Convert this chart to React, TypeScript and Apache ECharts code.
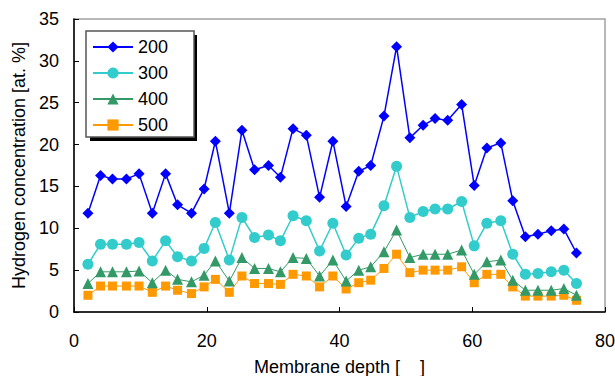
import React, { useEffect, useRef } from "react";
import * as echarts from "echarts";

const depth = [2.1, 4.0, 5.8, 7.9, 9.8, 11.8, 13.8, 15.6, 17.7, 19.6, 21.3, 23.4, 25.3, 27.2, 29.3, 31.1, 33.0, 35.0, 37.0, 39.0, 41.0, 42.9, 44.7, 46.7, 48.6, 50.6, 52.6, 54.4, 56.3, 58.4, 60.3, 62.2, 64.3, 66.1, 68.0, 69.9, 71.9, 73.8, 75.7];
const s200 = [11.8, 16.3, 15.9, 15.9, 16.5, 11.8, 16.5, 12.8, 11.8, 14.7, 20.4, 11.8, 21.7, 17.0, 17.5, 16.1, 21.9, 21.1, 13.7, 20.4, 12.6, 16.8, 17.5, 23.4, 31.7, 20.8, 22.3, 23.1, 22.9, 24.8, 15.1, 19.6, 20.2, 13.3, 9.0, 9.3, 9.7, 9.9, 7.05];
const s300 = [5.7, 8.1, 8.1, 8.1, 8.3, 6.1, 8.5, 6.6, 6.1, 7.6, 10.7, 6.2, 11.3, 8.9, 9.2, 8.5, 11.5, 10.9, 7.3, 10.6, 6.8, 8.8, 9.3, 12.7, 17.4, 11.3, 12.0, 12.3, 12.3, 13.2, 7.9, 10.6, 10.9, 6.9, 4.5, 4.6, 4.8, 5.0, 3.4];
const s400 = [3.4, 4.8, 4.8, 4.8, 4.9, 3.5, 5.0, 3.9, 3.6, 4.4, 6.1, 3.7, 6.5, 5.2, 5.2, 4.8, 6.5, 6.4, 4.3, 6.2, 3.7, 5.0, 5.4, 7.2, 9.8, 6.5, 6.9, 6.9, 6.9, 7.4, 4.5, 6.0, 6.2, 3.8, 2.6, 2.6, 2.6, 2.8, 2.0];
const s500 = [2.0, 3.1, 3.1, 3.1, 3.1, 2.35, 3.1, 2.6, 2.2, 3.0, 3.9, 2.35, 4.3, 3.4, 3.4, 3.3, 4.5, 4.3, 3.0, 4.3, 2.75, 3.5, 3.8, 5.2, 6.9, 4.7, 5.0, 5.0, 5.0, 5.4, 3.5, 4.5, 4.5, 3.0, 1.9, 1.9, 1.9, 2.0, 1.4];

const seriesNames = ["200", "300", "400", "500"];
const xTicks = [0, 20, 40, 60, 80];
const yTicks = [0, 5, 10, 15, 20, 25, 30, 35];

const FONT = "'Liberation Sans', Arial, sans-serif";

export default function App() {
  const ref = useRef<HTMLDivElement>(null);
  useEffect(() => {
    if (!ref.current) return;
    const chart = echarts.init(ref.current, undefined, { renderer: "svg" });
    const pair = (vals: number[]) => vals.map((v, i) => [depth[i], v]);
    const styles = [
      { color: "#0000FF", symbol: "diamond", size: 11, width: 1.5, data: s200 },
      { color: "#33CCCC", symbol: "circle", size: 11, width: 1.5, data: s300 },
      { color: "#339966", symbol: "triangle", size: 11, width: 1, data: s400 },
      { color: "#FF9900", symbol: "rect", size: 9, width: 1, data: s500 },
    ];
    chart.setOption({
      animation: false,
      textStyle: { fontFamily: FONT },
      grid: {
        left: 74,
        top: 19,
        right: 10,
        bottom: 64,
        outerBoundsMode: "none",
        containLabel: false,
        show: true,
        borderColor: "#a0a0a0",
        borderWidth: 1.5,
        backgroundColor: "transparent",
      },
      graphic: [
        {
          type: "rect",
          z: 5,
          shape: { x: 90, y: 35, width: 107, height: 106 },
          style: { fill: "#000" },
        },
      ],
      legend: {
        orient: "vertical",
        left: 86,
        top: 31,
        z: 10,
        padding: [7, 26, 3, 6],
        itemGap: 8,
        itemWidth: 40,
        itemHeight: 14,
        backgroundColor: "#fff",
        borderColor: "#555",
        borderWidth: 1.5,
        data: seriesNames,
        textStyle: { fontSize: 18, color: "#000", fontFamily: FONT },
      },
      xAxis: {
        type: "value",
        min: xTicks[0],
        max: xTicks[xTicks.length - 1],
        interval: 20,
        name: "Membrane depth [    ]",
        nameLocation: "middle",
        nameGap: 46,
        nameTextStyle: { fontSize: 18, color: "#000", fontFamily: FONT },
        axisLine: { show: true, lineStyle: { color: "#000", width: 1.5 } },
        axisTick: { show: true, inside: true, length: 5, lineStyle: { color: "#000" } },
        axisLabel: { fontSize: 18, color: "#000", margin: 20, fontFamily: FONT },
        splitLine: { show: false },
      },
      yAxis: {
        type: "value",
        min: yTicks[0],
        max: yTicks[yTicks.length - 1],
        interval: 5,
        name: "Hydrogen concentration [at. %]",
        nameLocation: "middle",
        nameGap: 44,
        nameTextStyle: { fontSize: 18, color: "#000", fontFamily: FONT },
        axisLine: { show: true, lineStyle: { color: "#000", width: 1.5 } },
        axisTick: { show: true, inside: true, length: 5, lineStyle: { color: "#000" } },
        axisLabel: { fontSize: 18, color: "#000", margin: 15, fontFamily: FONT },
        splitLine: { show: false },
      },
      series: styles.map((s, i) => ({
        name: seriesNames[i],
        type: "line",
        data: pair(s.data),
        symbol: s.symbol,
        symbolSize: s.size,
        showSymbol: true,
        color: s.color,
        lineStyle: { color: s.color, width: s.width },
        itemStyle: { color: s.color },
        z: 2 + (3 - i),
      })),
    });
    return () => chart.dispose();
  }, []);
  return <div ref={ref} style={{ width: 615, height: 376, position: "absolute", left: 0, top: 0 }} />;
}
